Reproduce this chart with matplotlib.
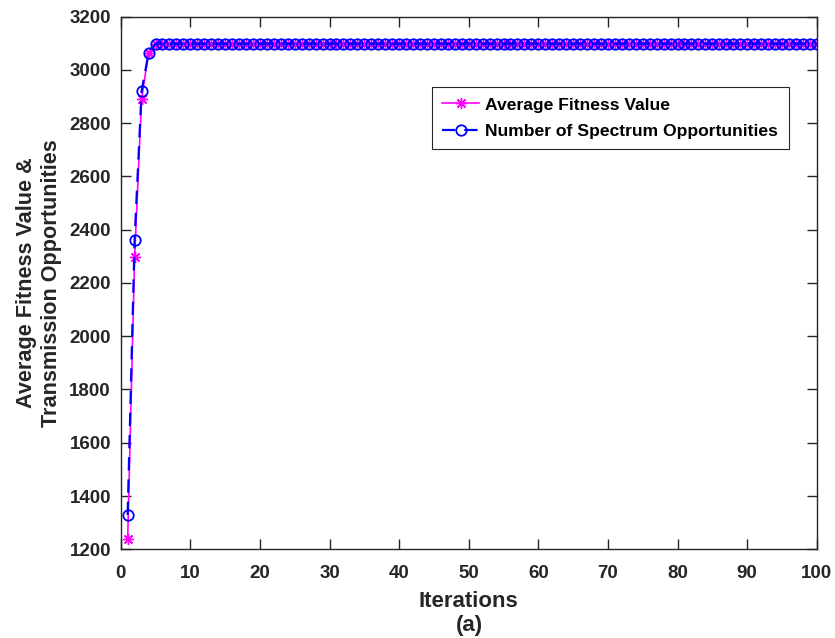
import matplotlib
matplotlib.use("Agg")
import matplotlib.pyplot as plt
import numpy as np

plt.rcParams['font.family'] = ['Liberation Sans', 'DejaVu Sans']
plt.rcParams['font.weight'] = 'bold'

iterations = list(range(1, 101))
fitness_head = [1237, 2297, 2891, 3062]
spectrum_head = [1329, 2362, 2919, 3062]
plateau = 3098
avg_fitness = fitness_head + [plateau] * (100 - len(fitness_head))
spectrum_opps = spectrum_head + [plateau] * (100 - len(spectrum_head))

xticks = list(range(0, 101, 10))
yticks = list(range(1200, 3201, 200))

fig = plt.figure(figsize=(8.35, 6.38), dpi=100)
ax = fig.add_axes([120.7 / 835, 88.7 / 638, 696 / 835, 532.8 / 638])

ax.plot(iterations, avg_fitness, color='#FF00FF', linestyle='-', linewidth=1.2,
        marker=(8, 2, 0), markersize=8, markeredgewidth=1.0, label='Average Fitness Value')
ax.plot(iterations, spectrum_opps, color='#0000FF', linestyle=(0, (6, 4)), linewidth=1.6,
        marker='o', markersize=7.5, fillstyle='none', markeredgewidth=1.3,
        label='Number of Spectrum Opportunities')

ax.set_xlim(0, 100)
ax.set_ylim(1200, 3200)
ax.set_xticks(xticks)
ax.set_yticks(yticks)
ax.tick_params(direction='in', length=7, width=1.0, top=True, right=True,
               labelsize=13.5, colors='#262626')
ax.tick_params(axis='x', pad=11)
ax.tick_params(axis='y', pad=7)
for lab in ax.get_xticklabels() + ax.get_yticklabels():
    lab.set_fontweight('bold')
for s in ax.spines.values():
    s.set_color('#262626')
    s.set_linewidth(1.0)

ax.set_xlabel('Iterations', fontsize=16, fontweight='bold', color='#262626', labelpad=7)
ax.set_ylabel('Average Fitness Value &\nTransmission Opportunities', fontsize=15.6,
              fontweight='bold', color='#262626', labelpad=5, linespacing=1.3)
fig.text(469 / 835, 1 - 626 / 638, '(a)', ha='center', va='center', fontsize=16,
         fontweight='bold', color='#262626')

leg = ax.legend(loc='upper left', bbox_to_anchor=(0.447, 0.868), fontsize=12.6,
                frameon=True, fancybox=False, edgecolor='#262626', framealpha=1,
                handlelength=2.1, handletextpad=0.35, borderpad=0.6,
                labelspacing=0.62, borderaxespad=0)
leg.get_frame().set_linewidth(0.8)
for t in leg.get_texts():
    t.set_fontweight('bold')

fig.savefig('out.png', dpi=100)
